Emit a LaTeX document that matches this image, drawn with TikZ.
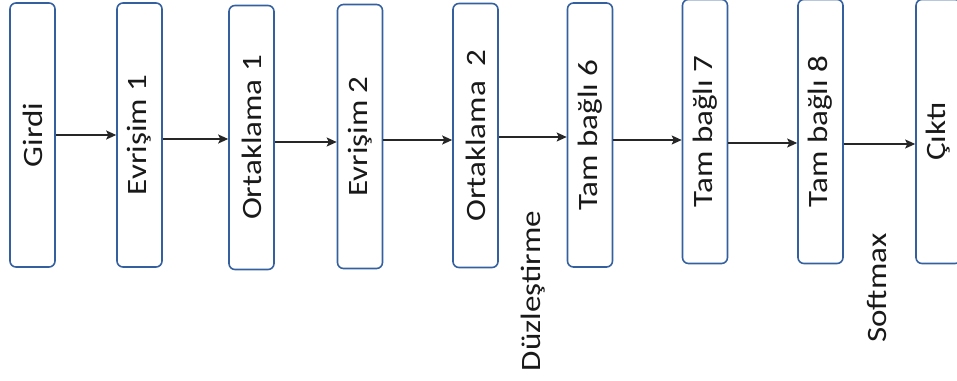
\documentclass[tikz,border=0pt]{standalone}
\usepackage{fontspec}
\usepackage{graphicx}
\setmainfont{Carlito}
\usetikzlibrary{arrows.meta}
\definecolor{boxblue}{HTML}{34609F}
\definecolor{linegray}{HTML}{262626}
\newcommand{\lbl}[1]{\scalebox{1.18}[1]{#1}}
\tikzset{
  layer/.style={draw=boxblue, line width=1.6pt, rounded corners=6pt,
    minimum width=45pt, minimum height=264pt, inner sep=0pt},
  lyrtext/.style={rotate=90, font=\fontsize{28}{30}\selectfont, text=black!90, inner sep=0pt},
  arr/.style={draw=linegray, line width=1.4pt, -{Stealth[length=10pt,width=9pt,inset=2pt]}},
}
\begin{document}
\begin{tikzpicture}[x=1pt,y=-1pt]
\useasboundingbox (0,0) rectangle (957,380);
\clip (0,0) rectangle (957,380);
\node[layer, label={[lyrtext]center:{\lbl{Girdi}}}] (g) at (32.5,135) {};
\node[layer, label={[lyrtext]center:{\lbl{Evrişim 1}}}] (e1) at (139.5,135) {};
\node[layer, label={[lyrtext]center:{\lbl{Ortaklama 1}}}] (o1) at (251.5,137.5) {};
\node[layer, label={[lyrtext]center:{\lbl{Evrişim 2}}}] (e2) at (360,136.5) {};
\node[layer, label={[lyrtext]center:{\lbl{Ortaklama\ \ 2}}}] (o2) at (475.5,135.5) {};
\node[layer, label={[lyrtext]center:{\lbl{Tam bağlı 6}}}] (t6) at (590,135) {};
\node[layer, label={[lyrtext]center:{\lbl{Tam bağlı 7}}}] (t7) at (705,131.5) {};
\node[layer, label={[lyrtext]center:{\lbl{Tam bağlı 8}}}] (t8) at (820.5,131.5) {};
\node[layer, label={[lyrtext]center:{\lbl{Çıktı}}}] (c) at (938.5,131.5) {};
\node[lyrtext] (flat) at (533,291) {\lbl{Düzleştirme}};
\node[lyrtext] (soft) at (877,288) {\lbl{Softmax}};
\draw[arr] (g.east |- 0,135) -- (e1.west |- 0,135);
\draw[arr] (e1.east |- 0,139) -- (o1.west |- 0,139);
\draw[arr] (o1.east |- 0,142) -- (e2.west |- 0,142);
\draw[arr] (e2.east |- 0,140) -- (o2.west |- 0,140);
\draw[arr] (o2.east |- 0,137) -- (t6.west |- 0,137);
\draw[arr] (t6.east |- 0,140) -- (t7.west |- 0,140);
\draw[arr] (t7.east |- 0,143) -- (t8.west |- 0,143);
\draw[arr] (t8.east |- 0,144) -- (c.west |- 0,144);
\end{tikzpicture}
\end{document}
